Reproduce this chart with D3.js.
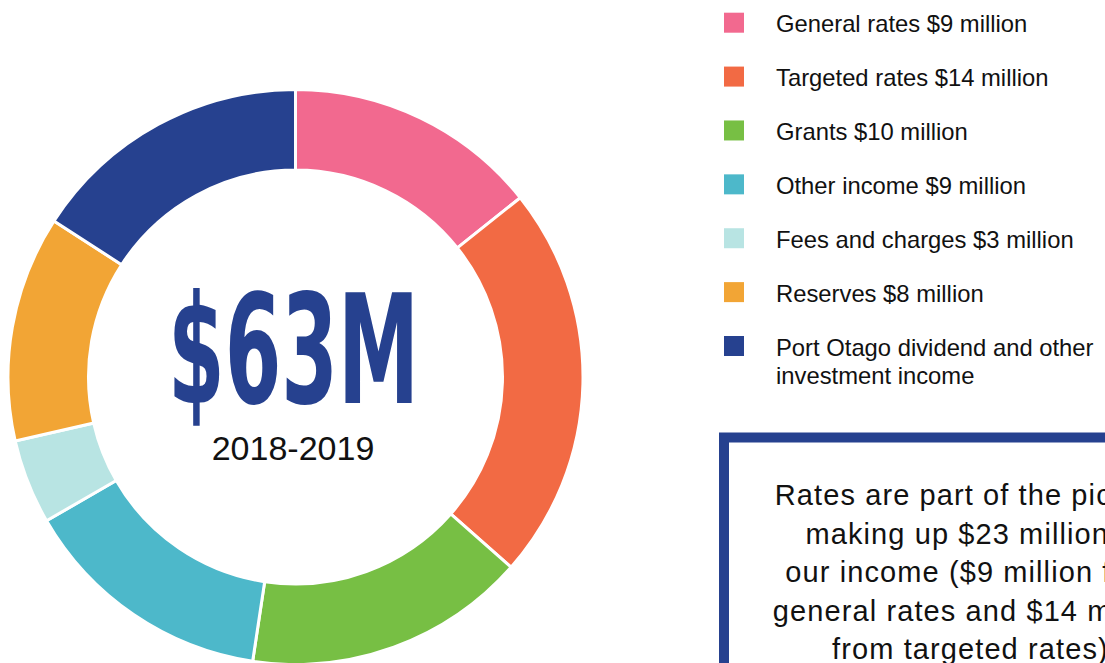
<!DOCTYPE html>
<html>
<head>
<meta charset="utf-8">
<script src="https://cdn.jsdelivr.net/npm/d3@7"></script>
<style>
  html, body { margin: 0; padding: 0; background: #fff; }
  svg { display: block; }
</style>
</head>
<body>
<svg id="chart" width="1105" height="663"></svg>
<script>
const categories = ["General rates", "Targeted rates", "Grants", "Other income", "Fees and charges", "Reserves", "Port Otago dividend and other investment income"];
const values = [9, 14, 10, 9, 3, 8, 10];
const legendLabels = [
  ["General rates $9 million"],
  ["Targeted rates $14 million"],
  ["Grants $10 million"],
  ["Other income $9 million"],
  ["Fees and charges $3 million"],
  ["Reserves $8 million"],
  ["Port Otago dividend and other", "investment income"]
];
const colors = ["#F2698F", "#F26A44", "#77BF44", "#4DB8CA", "#B8E4E3", "#F2A535", "#26418F"];
const totalLabel = "$63M";
const yearLabel = "2018-2019";
const noteLines = [
  "Rates are part of the picture,",
  "making up $23 million of",
  "our income ($9 million from",
  "general rates and $14 million",
  "from targeted rates)."
];

const svg = d3.select("#chart");
const cx = 295.5, cy = 377, R = 287.5, r = 207;

const pie = d3.pie().sort(null).value(d => d)(values);
const arc = d3.arc().innerRadius(r).outerRadius(R);

const g = svg.append("g").attr("transform", `translate(${cx},${cy})`);
g.selectAll("path").data(pie).join("path")
  .attr("d", arc)
  .attr("fill", (d, i) => colors[i])
  .attr("stroke", "#fff")
  .attr("stroke-width", 3)
  .attr("stroke-linejoin", "miter");

g.append("text")
  .attr("x", -2).attr("y", 26)
  .attr("text-anchor", "middle")
  .attr("font-family", "DejaVu Sans Condensed, DejaVu Sans")
  .attr("font-weight", "bold")
  .attr("font-size", 152)
  .attr("textLength", 251)
  .attr("lengthAdjust", "spacingAndGlyphs")
  .attr("fill", "#26418F")
  .text(totalLabel);

g.append("text")
  .attr("x", -2.5).attr("y", 83)
  .attr("text-anchor", "middle")
  .attr("font-family", "Liberation Sans, Arial, sans-serif")
  .attr("font-size", 34)
  .attr("fill", "#111")
  .text(yearLabel);

// legend
const legendY = d3.scaleLinear().domain([0, 6]).range([12.7, 336]);
const leg = svg.append("g");
legendLabels.forEach((lines, i) => {
  const y0 = legendY(i);
  leg.append("rect").attr("x", 724).attr("y", y0).attr("width", 20).attr("height", 20).attr("fill", colors[i]);
  const t = leg.append("text")
    .attr("font-family", "Liberation Sans, Arial, sans-serif")
    .attr("font-size", 23.8)
    .attr("fill", "#111");
  lines.forEach((ln, j) => {
    t.append("tspan").attr("x", 776).attr("y", y0 + 19.5 + j * 28.5).text(ln);
  });
});

// note box
svg.append("rect")
  .attr("x", 724).attr("y", 437.5)
  .attr("width", 500).attr("height", 400)
  .attr("fill", "none")
  .attr("stroke", "#26418F")
  .attr("stroke-width", 10);

const note = svg.append("text")
  .attr("text-anchor", "middle")
  .attr("font-family", "Liberation Sans, Arial, sans-serif")
  .attr("font-size", 29)
  .attr("letter-spacing", 1.1)
  .attr("fill", "#111");
noteLines.forEach((ln, i) => {
  note.append("tspan").attr("x", 975).attr("y", 505 + i * 38.5).text(ln);
});
</script>
</body>
</html>
